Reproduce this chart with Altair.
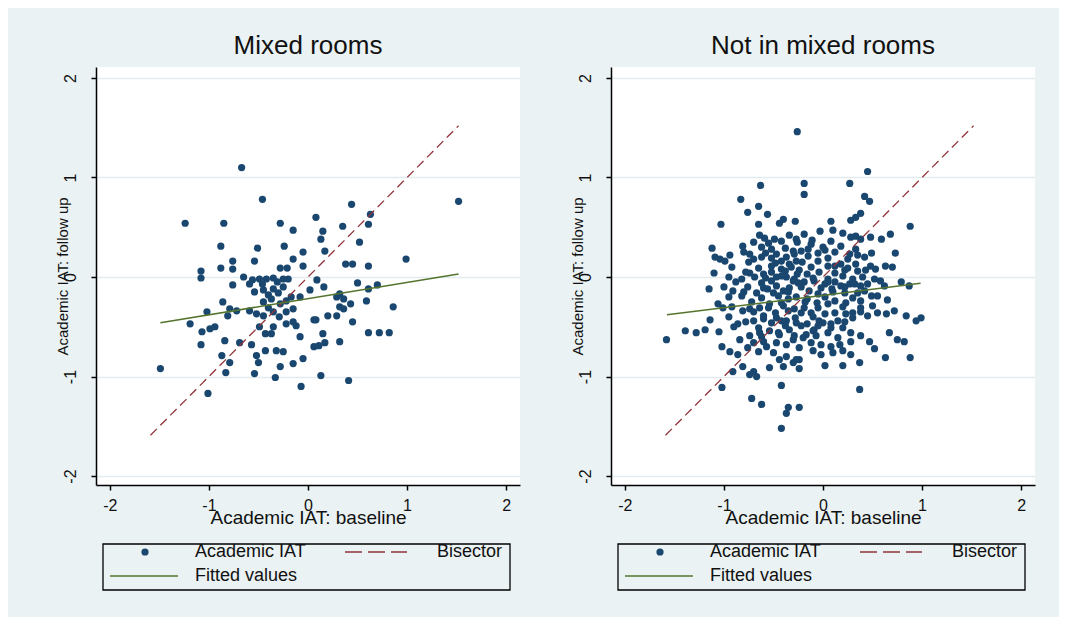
import altair as alt
import pandas as pd

# ---------------- data ----------------
mixed_points = [
    (-0.67, 1.10), (-0.46, 0.78), (-1.24, 0.54), (-0.85, 0.54), (-0.28, 0.54), (-0.15, 0.47),
    (-0.88, 0.31), (-0.51, 0.29), (-0.24, 0.31), (-0.05, 0.25), (-0.76, 0.16), (-0.54, 0.16),
    (-0.15, 0.18), (-0.05, 0.11), (-1.08, 0.06), (-1.08, -0.01), (-0.88, 0.09), (-0.76, 0.08),
    (-0.28, 0.09), (-0.21, 0.09), (-0.56, -0.03),
    (1.52, 0.76), (0.44, 0.73), (0.08, 0.60), (0.63, 0.63), (0.35, 0.51), (0.61, 0.53),
    (0.15, 0.46), (0.13, 0.38), (0.52, 0.35), (0.17, 0.26), (0.38, 0.13), (0.45, 0.13),
    (0.61, 0.11), (0.99, 0.18),
    (-0.76, -0.08), (-0.65, 0.00), (-0.59, -0.07), (-0.49, -0.02), (-0.42, -0.02), (-0.35, -0.01),
    (-0.25, -0.02), (-0.20, -0.02), (-0.31, -0.05), (-0.46, -0.07),
    (-0.54, -0.15), (-0.45, -0.13), (-0.35, -0.12), (-0.25, -0.10), (-0.30, -0.16), (-0.40, -0.18),
    (-0.45, -0.25), (-0.37, -0.22), (-0.28, -0.27), (-0.17, -0.20), (-0.08, -0.20), (-0.22, -0.24),
    (-0.86, -0.25), (-0.79, -0.32), (-0.72, -0.34), (-0.81, -0.39), (-0.59, -0.34), (-0.52, -0.37),
    (-1.02, -0.35),
    (-0.45, -0.39), (-0.35, -0.35), (-0.22, -0.35), (-0.15, -0.32), (-0.40, -0.31), (-0.29, -0.40),
    (-1.19, -0.47), (-1.07, -0.55), (-0.99, -0.52), (-0.94, -0.50), (-0.84, -0.64), (-1.08, -0.68),
    (-0.69, -0.66), (-0.57, -0.68),
    (-0.49, -0.50), (-0.43, -0.57), (-0.37, -0.57), (-0.35, -0.50), (-0.22, -0.47), (-0.15, -0.45),
    (-0.12, -0.49), (-0.08, -0.60),
    (-0.43, -0.74), (-0.32, -0.74), (-0.25, -0.75), (-0.87, -0.79), (-0.79, -0.86), (-0.52, -0.79),
    (-0.50, -0.86), (-0.28, -0.90), (-0.15, -0.87), (-0.05, -0.82), (-1.49, -0.92), (-0.83, -0.96),
    (-0.54, -0.97), (-0.33, -1.01), (-1.01, -1.17), (-0.07, -1.10),
    (0.09, -0.03), (0.02, -0.13), (0.16, -0.10), (0.50, -0.06), (0.61, -0.12), (0.70, -0.08),
    (0.29, -0.20), (0.32, -0.17), (0.36, -0.22), (0.43, -0.27), (0.59, -0.24), (0.32, -0.30),
    (0.36, -0.32), (0.86, -0.30), (0.06, -0.43), (0.08, -0.43), (0.20, -0.39), (0.29, -0.39),
    (0.45, -0.45), (0.61, -0.56), (0.72, -0.56), (0.82, -0.56), (0.15, -0.57), (0.06, -0.70),
    (0.11, -0.69), (0.17, -0.66), (0.32, -0.65), (0.13, -0.99), (0.41, -1.04),
]

not_mixed_points = [
    (-0.26, 1.46), (-0.63, 0.92), (-0.83, 0.78), (-0.65, 0.71), (-0.76, 0.65), (-0.56, 0.63),
    (-1.03, 0.53), (-0.65, 0.53), (-0.44, 0.54), (-0.40, 0.58), (-0.28, 0.56),
    (0.45, 1.06), (-0.19, 0.94), (0.27, 0.94), (-0.19, 0.83), (0.42, 0.81), (0.47, 0.76),
    (0.08, 0.56), (0.28, 0.57), (0.33, 0.60), (0.38, 0.64), (0.88, 0.51),
    (-0.64, 0.42), (-0.59, 0.39), (-0.49, 0.38), (-0.34, 0.42), (-0.27, 0.38), (-1.12, 0.29),
    (-0.81, 0.31), (-1.09, 0.20), (-1.04, 0.18), (-0.99, 0.16), (-0.94, 0.22), (-0.74, 0.23),
    (-0.70, 0.18), (-0.52, 0.28), (-0.47, 0.23), (-0.42, 0.16), (-0.37, 0.20), (-0.30, 0.26),
    (-0.34, 0.13), (-0.27, 0.16),
    (-1.10, 0.04), (-0.82, -0.02), (-0.74, 0.04), (-0.69, 0.00), (-0.60, 0.03), (-0.52, 0.05),
    (-0.47, 0.00), (-1.15, -0.12), (-0.91, -0.14), (-0.76, -0.10), (-0.67, -0.16), (-0.56, -0.12),
    (-0.47, -0.09), (-0.40, -0.14), (-0.34, -0.11), (-0.30, -0.04), (-0.37, 0.00), (-0.82, -0.19),
    (-1.06, -0.27), (-1.01, -0.31), (-0.81, -0.34), (-0.74, -0.32), (-0.64, -0.31), (-0.54, -0.27),
    (-0.70, -0.44), (-0.60, -0.42), (-0.47, -0.41), (-0.37, -0.44), (-1.14, -0.43), (-0.86, -0.47),
    (-0.03, 0.46), (0.10, 0.47), (0.20, 0.44), (0.28, 0.40), (0.33, 0.41), (0.38, 0.38),
    (0.48, 0.40), (0.59, 0.38), (0.68, 0.43), (-0.19, 0.43), (-0.11, 0.37), (-0.26, 0.35),
    (0.00, 0.30), (0.02, 0.27), (0.33, 0.28), (0.35, 0.22), (0.49, 0.24), (0.73, 0.24),
    (-0.29, 0.23), (0.25, 0.18), (-0.21, 0.15), (0.05, 0.11), (0.12, 0.11), (0.33, 0.13),
    (0.22, 0.07), (0.43, 0.07), (0.53, 0.08), (0.63, 0.11), (0.70, 0.10), (0.40, 0.00),
    (0.52, -0.02), (0.79, -0.05), (0.87, -0.09), (-0.32, 0.10), (-0.24, 0.07), (-0.16, 0.03),
    (-0.29, -0.02), (-0.19, -0.05), (-0.09, -0.04), (0.02, -0.07), (0.05, -0.02), (-0.14, -0.14),
    (-0.02, -0.11), (0.12, -0.05), (0.18, -0.09), (0.27, -0.07), (0.32, -0.07), (0.38, -0.09),
    (0.45, -0.07), (0.22, -0.16), (0.35, -0.16), (0.49, -0.19), (-0.27, -0.20), (-0.16, -0.22),
    (-0.06, -0.26), (0.12, -0.24), (0.23, -0.26), (0.65, -0.23), (0.38, -0.31), (-0.29, -0.32),
    (-0.19, -0.31), (-0.12, -0.36), (0.02, -0.37), (0.12, -0.36), (0.23, -0.37), (0.30, -0.36),
    (0.45, -0.39), (0.55, -0.36), (0.64, -0.37), (0.72, -0.34), (0.84, -0.39), (0.94, -0.44),
    (0.99, -0.41), (-0.27, -0.46), (-0.16, -0.47), (-0.04, -0.44), (0.08, -0.47), (0.22, -0.45),
    (-1.58, -0.63), (-1.39, -0.54), (-1.28, -0.56), (-1.19, -0.53), (-1.02, -0.70), (-0.94, -0.75),
    (-0.86, -0.78), (-0.76, -0.71), (-0.84, -0.63), (-0.74, -0.59), (-0.64, -0.56), (-0.54, -0.54),
    (-0.44, -0.58), (-0.34, -0.53), (-0.30, -0.63), (-0.57, -0.70), (-0.47, -0.66), (-0.37, -0.68),
    (-0.70, -0.66), (-0.81, -0.90), (-0.91, -0.95), (-0.70, -0.95), (-0.67, -1.00), (-0.74, -0.98),
    (-0.54, -0.91), (-0.44, -0.83), (-0.40, -0.90), (-0.37, -0.80), (-0.30, -0.86), (-0.27, -0.83),
    (-1.02, -1.11), (-0.42, -1.09), (-0.72, -1.22), (-0.62, -1.28), (-0.35, -1.31), (-0.37, -1.37),
    (-0.42, -1.52),
    (0.37, -1.13), (-0.24, -1.31), (0.67, -0.56), (0.75, -0.63), (0.82, -0.65), (0.47, -0.65),
    (0.52, -0.72), (0.63, -0.81), (0.88, -0.81), (0.28, -0.56), (0.28, -0.65), (0.15, -0.61),
    (0.17, -0.68), (0.08, -0.70), (0.20, -0.74), (0.28, -0.78), (-0.02, -0.68), (-0.02, -0.78),
    (0.37, -0.86), (0.20, -0.89), (0.02, -0.89), (0.08, -0.51), (-0.09, -0.53), (-0.05, -0.49),
    (-0.22, -0.49), (-0.29, -0.59), (-0.17, -0.58), (-0.24, -0.71), (-0.24, -0.83), (-0.24, -0.92),
    (-0.07, -0.59),
    # dense central blob
    (-0.70, 0.35), (-0.55, 0.34), (-0.42, 0.36), (-0.12, 0.33), (0.08, 0.36),
    (-0.62, 0.30), (-0.38, 0.29), (-0.15, 0.28), (0.18, 0.31),
    (-0.80, 0.25), (-0.58, 0.24), (-0.22, 0.26), (-0.05, 0.24), (0.12, 0.25), (0.27, 0.23),
    (-0.62, 0.20), (-0.52, 0.19), (-0.15, 0.21), (0.05, 0.19), (0.42, 0.20),
    (-0.75, 0.15), (-0.48, 0.14), (-0.05, 0.16), (0.18, 0.13),
    (-0.92, 0.10), (-0.65, 0.09), (-0.52, 0.11), (-0.42, 0.08), (-0.12, 0.10), (0.25, 0.09),
    (0.48, 0.11),
    (-0.78, 0.05), (-0.38, 0.06), (-0.26, 0.03), (-0.04, 0.05), (0.12, 0.04), (0.35, 0.06),
    (-0.95, 0.00), (-0.58, -0.01), (-0.42, 0.01), (-0.10, -0.01), (0.20, 0.01), (0.30, -0.02),
    (-0.88, -0.05), (-0.62, -0.06), (-0.52, -0.04), (-0.25, -0.06), (0.05, -0.05), (0.58, -0.04),
    (-1.00, -0.10), (-0.60, -0.11), (-0.22, -0.10), (0.09, -0.12), (0.22, -0.10), (0.62, -0.09),
    (-0.80, -0.15), (-0.50, -0.16), (-0.35, -0.15), (-0.05, -0.17), (0.10, -0.15), (0.42, -0.14),
    (-0.95, -0.20), (-0.62, -0.21), (-0.45, -0.19), (-0.35, -0.22), (0.02, -0.20), (0.30, -0.21),
    (0.55, -0.19),
    (-0.72, -0.25), (-0.42, -0.26), (-0.18, -0.25), (0.05, -0.27), (0.38, -0.24),
    (-0.92, -0.30), (-0.55, -0.31), (-0.40, -0.29), (-0.05, -0.31), (0.20, -0.30), (0.50, -0.29),
    (-0.70, -0.35), (-0.48, -0.36), (-0.35, -0.34), (-0.22, -0.36), (0.38, -0.35),
    (-0.95, -0.40), (-0.60, -0.39), (-0.28, -0.41), (-0.10, -0.40), (0.30, -0.41),
    (-0.78, -0.45), (-0.52, -0.46), (-0.42, -0.44), (0.00, -0.46), (0.15, -0.44),
    (-0.90, -0.50), (-0.65, -0.51), (-0.38, -0.49), (0.20, -0.51),
    (-1.05, -0.55), (-0.45, -0.56), (-0.10, -0.54), (0.05, -0.56),
    (-0.62, -0.60), (-0.20, -0.61), (0.38, -0.59), (-0.60, -0.65), (-0.12, -0.66),
    (-0.65, -0.75), (-0.50, -0.76), (-0.10, -0.74), (0.10, -0.76),
]

bisector_x = [-1.59, 1.52]
fit_mixed_x = [-1.49, 1.52]
fit_mixed_y = [-0.46, 0.03]
fit_not_mixed_x = [-1.575, 0.985]
fit_not_mixed_y = [-0.38, -0.063]

panel_titles = ["Mixed rooms", "Not in mixed rooms"]
x_title = "Academic IAT: baseline"
y_title = "Academic IAT: follow up"
axis_ticks = [-2, -1, 0, 1, 2]
legend_labels = ["Academic IAT", "Bisector", "Fitted values"]

# ---------------- styling ----------------
NAVY = "#1A476F"
MAROON = "#90353B"
GREEN = "#55752F"
BG = "#EAF2F3"
GRID = "#E2EBEE"
INK = "#111111"
FONT = "Liberation Sans"
W, H = 424, 418
DOT = 52
HYPHEN_LABEL = "datum.value < 0 ? '-' + abs(datum.value) : '' + datum.value"

x_scale = alt.Scale(domain=[-2.14, 2.14], nice=False, zero=False)
y_scale = alt.Scale(domain=[-2.09, 2.11], nice=False, zero=False)

x_axis = alt.Axis(
    values=axis_ticks, title=x_title, grid=False, labelExpr=HYPHEN_LABEL,
    domainColor="black", domainWidth=1.5, tickColor="black", tickWidth=1.5, tickSize=5,
    labelFont=FONT, labelFontSize=16, labelColor=INK, labelPadding=7, labelFlush=False,
    titleFont=FONT, titleFontSize=19, titleFontWeight="normal", titleColor=INK,
    minExtent=12, maxExtent=12, titlePadding=11,
)
y_axis = alt.Axis(
    values=axis_ticks, title=y_title, grid=True, gridColor=GRID, gridWidth=1.5,
    labelExpr=HYPHEN_LABEL,
    domainColor="black", domainWidth=1.5, tickColor="black", tickWidth=1.5, tickSize=5,
    labelFont=FONT, labelFontSize=16, labelColor=INK, labelPadding=13, labelAngle=270,
    labelFlush=False,
    titleFont=FONT, titleFontSize=15, titleFontWeight="normal", titleColor=INK,
    minExtent=14, maxExtent=14, titlePadding=12,
)


def panel(title, points, fit_x, fit_y):
    X = alt.X("x:Q", scale=x_scale, axis=x_axis)
    Y = alt.Y("y:Q", scale=y_scale, axis=y_axis)
    pts = pd.DataFrame(points, columns=["x", "y"])
    scatter = alt.Chart(pts).mark_circle(size=DOT, color=NAVY, opacity=1).encode(x=X, y=Y)
    bis = alt.Chart(pd.DataFrame({"x": bisector_x, "y": bisector_x})).mark_line(
        color=MAROON, strokeDash=[9, 5], strokeWidth=1.3).encode(x=X, y=Y)
    fit = alt.Chart(pd.DataFrame({"x": fit_x, "y": fit_y})).mark_line(
        color=GREEN, strokeWidth=1.6).encode(x=X, y=Y)

    one = pd.DataFrame({"k": [0]})
    box = alt.Chart(one).mark_rect(fill="transparent", stroke="black", strokeWidth=1.3).encode(
        x=alt.value(7), x2=alt.value(414), y=alt.value(477), y2=alt.value(523))
    dot = alt.Chart(one).mark_circle(size=DOT, color=NAVY, opacity=1).encode(
        x=alt.value(49), y=alt.value(485))
    dash = alt.Chart(one).mark_rule(color=MAROON, strokeDash=[17, 6], strokeWidth=1.3).encode(
        x=alt.value(249), x2=alt.value(311), y=alt.value(485))
    solid = alt.Chart(one).mark_rule(color=GREEN, strokeWidth=1.6).encode(
        x=alt.value(14), x2=alt.value(82), y=alt.value(509))
    txt = dict(align="left", baseline="middle", font=FONT, fontSize=18, color=INK)
    t1 = alt.Chart(one).mark_text(text=legend_labels[0], **txt).encode(x=alt.value(99), y=alt.value(485))
    t2 = alt.Chart(one).mark_text(text=legend_labels[1], limit=73, ellipsis="", **txt).encode(
        x=alt.value(341), y=alt.value(485))
    t3 = alt.Chart(one).mark_text(text=legend_labels[2], **txt).encode(x=alt.value(99), y=alt.value(509))

    return alt.layer(scatter, bis, fit, box, dot, dash, solid, t1, t2, t3).properties(
        width=W, height=H,
        title=alt.TitleParams(title, font=FONT, fontSize=26, fontWeight="normal", color=INK,
                              anchor="middle", offset=8),
    )


left = panel(panel_titles[0], mixed_points, fit_mixed_x, fit_mixed_y)
right = panel(panel_titles[1], not_mixed_points, fit_not_mixed_x, fit_not_mixed_y)

chart = alt.hconcat(left, right, spacing=50).properties(
    padding={"left": 47, "top": 25, "right": 24, "bottom": 26},
    background=BG,
).configure_view(fill="white", stroke=None)

chart.save("out.html", embed_options={"renderer": "svg", "actions": False})
